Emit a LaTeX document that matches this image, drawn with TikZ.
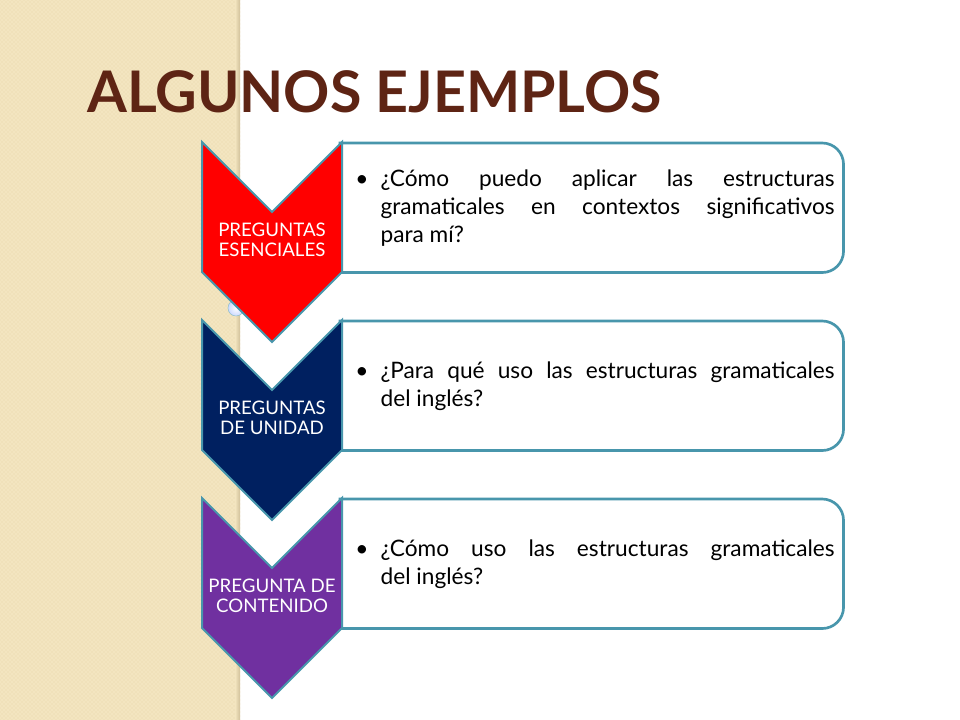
\documentclass[tikz,border=0pt]{standalone}
\usepackage{fontspec}
\setmainfont{Lato}
\usetikzlibrary{positioning, calc, patterns}

\definecolor{titlebrown}{RGB}{94,36,20}
\definecolor{bandbeige}{RGB}{243,229,192}
\definecolor{banddot}{RGB}{232,214,170}
\definecolor{edgeteal}{RGB}{72,150,172}
\definecolor{esred}{RGB}{255,0,0}
\definecolor{unnavy}{RGB}{0,32,96}
\definecolor{copurple}{RGB}{112,48,160}

\begin{document}
\begin{tikzpicture}[x=0.75pt, y=-0.75pt,
    chev/.style={draw=edgeteal, line width=1.5pt, line join=miter},
    chevtext/.style={text=white, align=center, inner sep=0pt, font=\fontsize{14}{15}\selectfont},
    boxframe/.style={minimum width=377.25pt, minimum height=96.75pt, inner sep=0pt, anchor=north west},
    boxline/.style={draw=edgeteal, line width=2pt, fill=white},
    boxtext/.style={anchor=west, inner sep=0pt, font=\fontsize{17}{21}\selectfont},
    titletext/.style={anchor=base west, inner sep=0pt, font=\fontsize{43}{50}\selectfont\bfseries}
]
    \useasboundingbox (0,0) rectangle (960,720);

    % left band
    \fill[bandbeige] (0,0) rectangle (240,720);
    \fill[pattern=crosshatch dots, pattern color=banddot] (0,0) rectangle (240,720);
    \shade[left color=bandbeige, right color=banddot!90!black] (235,0) rectangle (240,720);

    % title
    \node[titletext, text=titlebrown] (ttl) at (87,113) {ALGUNOS EJEMPLOS};

    % boxes
    \node[boxframe] (bx1) at (340,143) {};
    \node[boxframe] (bx2) at (340,321) {};
    \node[boxframe] (bx3) at (340,499) {};
    \foreach \b in {bx1,bx2,bx3}
        \draw[boxline] (\b.south west) -- (\b.north west) [rounded corners=16pt] -- (\b.north east) -- (\b.south east) [sharp corners] -- cycle;

    \node[boxtext] (tx1) at ($(bx1.west)+(15,0)$)
        {\makebox[19pt][l]{\textbullet}\parbox[t]{340.5pt}{¿Cómo puedo aplicar las estructuras\linebreak gramaticales en contextos significativos\linebreak para mí?}};
    \node[boxtext] (tx2) at ($(bx2.west)+(15,0)$)
        {\makebox[19pt][l]{\textbullet}\parbox[t]{340.5pt}{¿Para qué uso las estructuras gramaticales\linebreak del inglés?}};
    \node[boxtext] (tx3) at ($(bx3.west)+(15,0)$)
        {\makebox[19pt][l]{\textbullet}\parbox[t]{340.5pt}{¿Cómo uso las estructuras gramaticales\linebreak del inglés?}};

    % small bubble behind the first chevron
    \shade[inner color=white, outer color=cyan!25!blue!20, draw=edgeteal!60] (236,308) circle[radius=8];

    % chevrons
    \coordinate (c1) at (272,240);
    \coordinate (c2) at (272,418);
    \coordinate (c3) at (272,596);
    \foreach \c/\col in {c1/esred, c2/unnavy, c3/copurple}
        \filldraw[chev, fill=\col] ($(\c)+(-70,-98)$) -- ++(70,70) -- ++(70,-70) -- ++(0,130) -- ++(-70,70) -- ++(-70,-70) -- cycle;
    \node[chevtext] (ch1) at (c1) {PREGUNTAS\\ESENCIALES};
    \node[chevtext] (ch2) at (c2) {PREGUNTAS\\DE UNIDAD};
    \node[chevtext] (ch3) at (c3) {PREGUNTA DE\\CONTENIDO};
\end{tikzpicture}
\end{document}
